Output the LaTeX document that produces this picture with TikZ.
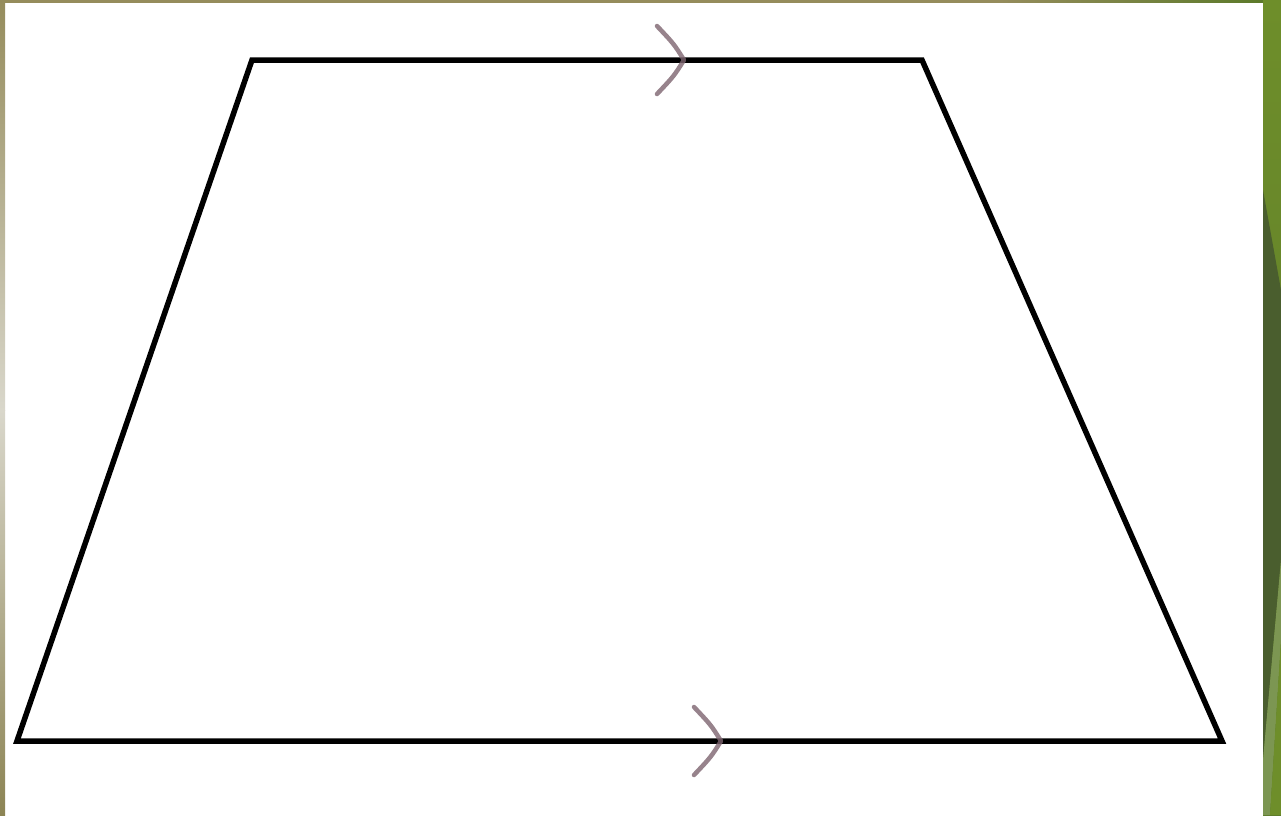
\documentclass[tikz,border=0pt]{standalone}
\usetikzlibrary{calc}
\definecolor{olive1}{HTML}{958C5C}
\definecolor{olive2}{HTML}{D9D7CB}
\definecolor{olive3}{HTML}{8C8454}
\definecolor{green1}{HTML}{6E8E2A}
\definecolor{green2}{HTML}{4A5E2E}
\definecolor{green3}{HTML}{7C9652}
\definecolor{green4}{HTML}{5C7A2A}
\definecolor{tipcol}{HTML}{7E6470}
\tikzset{
  edge/.style={line width=5.5pt, black, line join=miter},
  chevron/.style={line width=4.5pt, tipcol, line cap=round, line join=round, opacity=0.8}
}
\begin{document}
\begin{tikzpicture}[x=1pt,y=-1pt]
\useasboundingbox (0,0) rectangle (1281,815);
% background
\fill[white] (0,0) rectangle (1281,815);
\fill[olive1] (0,0) rectangle (1000,2.5);
\shade[left color=olive1, right color=green4] (1000,0) rectangle (1263,2.5);
\shade[top color=olive1, bottom color=olive2] (0,0) rectangle (5,410);
\shade[top color=olive2, bottom color=olive3] (0,410) rectangle (5,815);
% right green strip
\shade[top color=green1, bottom color=green4] (1263,0) rectangle (1281,815);
\fill[green2] (1263,190) -- (1281,290) -- (1281,560) -- (1263,760) -- cycle;
\fill[green3] (1263,760) -- (1281,560) -- (1281,640) -- (1270,815) -- (1263,815) -- cycle;
\fill[green1] (1270,815) -- (1281,640) -- (1281,815) -- cycle;
% trapezoid
\coordinate (TL) at (252,60);
\coordinate (TR) at (922,60);
\coordinate (BR) at (1222,741);
\coordinate (BL) at (17,741);
\draw[edge] (TL) -- (TR) -- (BR) -- (BL) -- cycle;
% parallel marks
\coordinate (T) at (684,60);
\coordinate (B) at (721,741);
\draw[chevron] ($(T)+(-27,-34)$) .. controls ($(T)+(-10,-16)$) .. (T) .. controls ($(T)+(-10,16)$) .. ($(T)+(-27,34)$);
\draw[chevron] ($(B)+(-27,-34)$) .. controls ($(B)+(-10,-16)$) .. (B) .. controls ($(B)+(-10,16)$) .. ($(B)+(-27,34)$);
\end{tikzpicture}
\end{document}
